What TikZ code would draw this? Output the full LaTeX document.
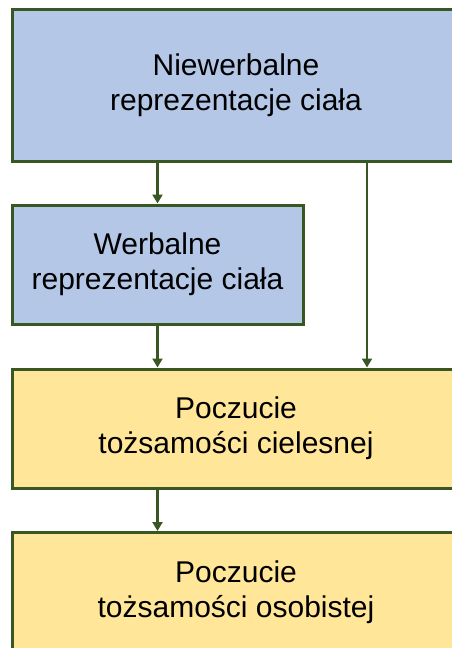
\documentclass[tikz,border=0pt]{standalone}
\usepackage{fontspec}
\setmainfont{Liberation Sans}
\usetikzlibrary{arrows.meta}
\definecolor{boxgreen}{HTML}{385723}
\definecolor{bodyblue}{HTML}{B4C7E7}
\definecolor{selfyellow}{HTML}{FFE699}

\begin{document}
\begin{tikzpicture}[x=1pt, y=-1pt,
  box/.style={draw=boxgreen, line width=3pt, align=center, inner sep=0pt,
    font=\fontsize{30}{35}\selectfont},
  arr/.style={draw=boxgreen, line width=2.6pt, -{Triangle[width=10pt,length=9pt]}}]
\useasboundingbox (0,0) rectangle (452,648);
\node[box, fill=bodyblue, minimum width=448pt, minimum height=152pt] (niewerb) at (236,85) {Niewerbalne\\reprezentacje ciała};
\node[box, fill=bodyblue, minimum width=291pt, minimum height=119pt] (werb) at (157.5,264.5) {Werbalne\\reprezentacje ciała};
\node[box, fill=selfyellow, minimum width=448pt, minimum height=119pt] (ciel) at (236,428.5) {Poczucie\\tożsamości cielesnej};
\node[box, fill=selfyellow, minimum width=448pt, minimum height=119pt] (osob) at (236,592) {Poczucie\\tożsamości osobistej};
\draw[arr] (niewerb.south -| werb) -- (werb.north);
\draw[arr] ([xshift=131pt]niewerb.south) -- ([xshift=131pt]ciel.north);
\draw[arr] (werb.south) -- (werb.south |- ciel.north);
\draw[arr] (ciel.south -| werb) -- (osob.north -| werb);
\end{tikzpicture}
\end{document}
